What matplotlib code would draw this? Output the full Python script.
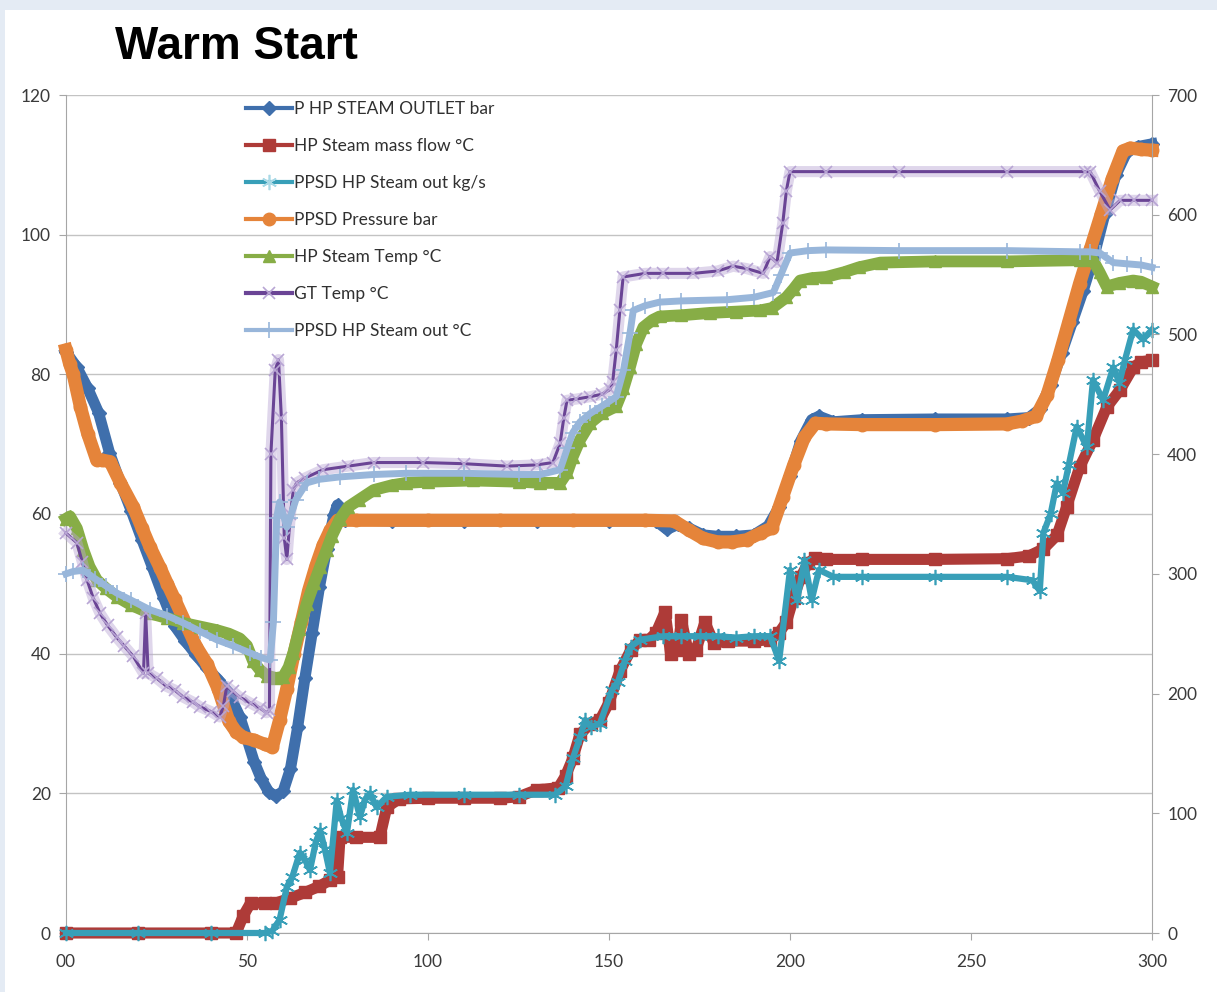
import matplotlib
matplotlib.use("Agg")
import matplotlib.pyplot as plt
from matplotlib.lines import Line2D
from matplotlib.patches import Rectangle

# ---- data (time axis 0..300) ----
# left axis (bar / kg/s)
t_p_hp = [0, 3, 6, 9, 12, 15, 18, 21, 24, 27, 30, 33, 36, 39, 42, 45, 48, 50, 52, 54, 56, 58,
          60, 62, 64, 66, 68, 70, 72, 74, 75, 77, 90, 110, 130, 150, 163, 166, 169, 172, 176,
          180, 185, 190, 194, 197, 200, 203, 206, 208, 212, 220, 240, 260, 266, 269, 272, 275,
          278, 281, 284, 287, 290, 293, 296, 300]
p_hp = [83.2, 81, 78, 74.5, 68.8, 64.5, 60.5, 56.3, 52.2, 48, 44, 41.8, 39.8, 37.9, 36.3, 34.3,
        31, 27.8, 24.5, 22, 20.2, 19.6, 20.3, 23.5, 29.5, 36.5, 43, 49.5, 55, 59.8, 61.3, 59.2,
        59, 59, 59, 59, 59, 57.8, 58.5, 58, 57, 56.8, 56.8, 57, 58.3, 61, 65.5, 70.5, 73.5, 74,
        73.2, 73.5, 73.6, 73.6, 73.8, 75, 78.5, 83, 87.5, 92, 97, 103, 108.5, 111.8, 112.6, 113]

t_flow = [0, 20, 40, 47, 49, 51, 55, 58, 62, 66, 70, 73, 75, 75.7, 80, 86.7, 88.6, 92, 100, 110,
          120, 125, 130, 136, 138, 140, 142, 145, 147.5, 150, 153, 156, 158.6, 161, 163, 165.5,
          167, 169, 170, 172, 174, 176.5, 179, 183, 190, 194.5, 197, 199, 201, 203, 205, 207,
          210, 220, 240, 260, 266, 270, 273.8, 276.4, 280, 283.7, 287.5, 291.2, 294.8, 297, 300]
hp_flow = [0, 0, 0, 0, 2.5, 4.3, 4.3, 4.3, 5, 5.8, 6.7, 7.6, 8, 13.7, 13.7, 13.7, 18, 19.2, 19.3,
           19.3, 19.3, 19.5, 20.5, 20.8, 22.5, 25, 28.5, 30, 30.5, 33, 37.5, 40.5, 42, 42, 43,
           46, 40, 40.5, 44.8, 40, 40.5, 44.5, 41.5, 41.8, 41.8, 42, 43, 44.5, 48, 51, 53, 53.7,
           53.5, 53.5, 53.5, 53.6, 54, 55, 57, 61, 66.7, 70.6, 75.3, 77.8, 81, 81.8, 82]

t_ppsd_kg = [0, 20, 40, 55, 57, 59, 61, 62.5, 64.6, 66, 67.4, 69, 70.2, 71.5, 72.9, 74.8, 76,
             77.6, 79.3, 81.2, 82.5, 84, 85.8, 88.6, 95, 110, 125, 135, 138, 140, 142, 143.4,
             145, 147.5, 150.8, 152.5, 154.4, 156, 158.6, 165, 170, 175, 180, 185, 190, 194.5,
             197, 200, 202, 204, 206, 208, 212, 220, 240, 260, 267, 269, 270, 272, 273.7, 275.4,
             277, 279.2, 282, 283.7, 286.5, 289.3, 291, 292.5, 294.8, 297.5, 300]
ppsd_kg = [0, 0, 0, 0, 0.3, 1.9, 6.6, 8, 11.5, 10.5, 9, 13, 14.7, 12, 8.6, 19, 16.5, 14.3, 20.5,
           16.6, 19, 20, 18, 19.5, 19.8, 19.8, 19.8, 19.8, 21, 25, 28, 30.5, 29.5, 30, 34.8, 36,
           39, 41, 42, 42.5, 42.5, 42.5, 42.5, 42.3, 42.5, 42.5, 39, 52, 47.7, 53.4, 47.7, 52, 51,
           51, 51, 51, 50.5, 49, 57.3, 60, 64.4, 63, 67, 72.5, 69.6, 79.2, 76.3, 81, 78.8, 82,
           86.4, 85, 86.4]

t_ppsd_p = [0, 1, 2, 4, 6, 8.5, 10, 12.2, 15, 18.6, 21, 23.2, 26, 28, 30, 33, 36, 39, 42, 45, 47,
            49, 52, 55, 57, 59, 61, 63, 65, 67, 69, 71, 73, 75, 80, 100, 120, 140, 160, 168, 172,
            176, 180, 184, 188, 192, 195, 198, 201, 204, 207, 210, 220, 240, 260, 264, 268, 271,
            274, 277, 280, 283, 286, 289, 292, 294, 297, 300]
ppsd_p = [83.5, 81.5, 80, 75.3, 71.5, 67.7, 67.7, 67.5, 64.5, 61, 58, 55.3, 52.3, 50, 47.8, 44.4,
          41, 38.5, 35, 30.3, 28.8, 28, 27.6, 27, 26.6, 30.5, 35, 40, 44.5, 49, 52.5, 55.5, 57.7,
          59.1, 59.1, 59.1, 59.1, 59.1, 59.1, 59, 57.7, 56.5, 56, 56, 56.3, 57.3, 58, 62.5, 67,
          71, 73, 72.9, 72.8, 72.8, 72.9, 73.3, 74, 77, 82, 87.5, 93, 98, 103, 108, 112, 112.4,
          112.2, 112.1]

# right axis (deg C)
t_hp_temp = [0, 1.1, 3, 4.8, 6.5, 8.5, 11, 14, 18, 23.2, 28, 32.4, 37, 41.6, 45, 48, 50, 51.7,
             53.5, 55.5, 58, 60, 61.5, 62.8, 64.5, 66.5, 68.5, 70.2, 72, 73.5, 75.7, 78, 81, 85,
             90, 94, 100, 112.5, 125, 131, 136.5, 138.5, 140, 142, 144.8, 148, 152, 154, 155.8,
             157.5, 159.5, 162, 164, 170, 178, 185, 191.7, 195, 199, 201, 202.8, 206, 210, 215,
             219, 225, 240, 260, 280, 283.7, 285.5, 287.5, 291, 294.8, 297, 300]
hp_temp = [346, 348, 338, 320, 306, 295, 288, 281, 274, 267, 263, 259, 256, 253, 250, 246, 240,
           227, 220, 215, 213, 214, 222, 234, 254, 275, 292, 306, 320, 332, 346, 356, 362, 370,
           374, 376, 377, 378, 377, 376, 376, 385, 398, 412, 426, 434, 440, 455, 473, 492, 506,
           512, 515, 516, 518, 519, 520, 522, 531, 538, 545, 547, 548, 552, 556, 560, 561, 561,
           562, 562, 552, 540, 543, 545, 544, 540]

t_gt = [0, 3, 4.5, 5.8, 7.5, 9.4, 11.5, 14, 16, 18.6, 21.4, 22, 22.7, 25, 27.8, 30, 32.4, 35, 37,
        40, 42.5, 43.5, 44.4, 46, 48, 51, 53.5, 55.4, 56.2, 56.6, 57.8, 58.7, 59.5, 60.3, 61,
        62, 62.8, 63.7, 66, 71, 78, 85, 98.6, 110, 121.8, 130, 134.5, 136.5, 137.5, 138.4, 141,
        144.8, 148, 150.3, 151, 152, 153, 153.9, 160, 165, 173.3, 180, 184.3, 188, 192.6, 194.5,
        196.4, 198, 199, 200, 210, 230, 260, 281.5, 282.9, 285.5, 288.4, 291.2, 295, 300]
gt_temp = [334, 326, 310, 295, 280, 267, 257, 247, 240, 231, 217, 267, 217, 213, 206, 203, 197,
           193, 189, 185, 180.5, 190, 206, 202, 197, 192, 188, 184, 186, 400, 470, 479, 430, 330,
           312, 350, 370, 376, 380, 387, 390, 393, 393, 392, 390, 391, 393, 409, 430, 445, 446,
           448, 450, 454, 460, 487, 520, 548, 551, 551, 551, 553, 557, 555, 551, 565, 560, 593,
           620, 636, 636, 636, 636, 636, 636, 620, 604, 612, 612, 612]

t_ppsd_t = [0, 2, 4.8, 8, 11, 14, 18, 23.2, 28, 32.4, 37, 41.6, 46, 50.8, 54, 56.4, 57.3, 58.2,
            59, 61, 61.9, 63.5, 66.5, 70, 75.7, 85, 94, 110, 125, 131, 136.5, 138.5, 140, 142,
            144.8, 148, 152, 154, 155.8, 156.7, 160, 164, 170, 182.6, 190, 195.4, 197.5, 200,
            205, 210, 230, 260, 280, 283, 285.6, 289.3, 293, 297, 300]
ppsd_temp = [300, 302, 303, 296, 290, 284, 278, 270, 265, 259, 252, 245, 240, 234, 230, 228, 260,
             347, 360, 339, 347, 362, 376, 379, 381, 383, 384, 384, 383, 383, 387, 405, 418, 427,
             434, 440, 448, 470, 501, 520, 524, 527, 528, 529, 531, 535, 550, 568, 570, 570.6,
             570, 570, 569, 569, 568, 560, 559, 558, 556]

labels = ["P HP STEAM OUTLET bar", "HP Steam mass flow °C", "PPSD HP Steam out kg/s",
          "PPSD Pressure bar", "HP Steam Temp °C", "GT Temp °C", "PPSD HP Steam out °C"]
x_ticks = [0, 50, 100, 150, 200, 250, 300]
x_tick_labels = ["00", "50", "100", "150", "200", "250", "300"]

c_blue = "#3f6fac"
c_red = "#ae3b38"
c_teal = "#389fb8"
c_orange = "#e5843a"
c_green = "#87ad46"
c_purple = "#6a4495"
c_purple_l = "#b8a5d4"
c_lblue = "#98b6da"

plt.rcParams["font.family"] = ["Lato", "DejaVu Sans"]

fig = plt.figure(figsize=(12.17, 9.92), dpi=100)
fig.patch.set_facecolor("#e4ebf4")
fig.patches.append(Rectangle((5 / 1217, 0), 1, 1 - 10 / 992, transform=fig.transFigure,
                             facecolor="white", edgecolor="none", zorder=-10))

ax = fig.add_axes([66 / 1217, 1 - 933 / 992, (1152 - 66) / 1217, (933 - 95) / 992])
ax2 = ax.twinx()
ax.set_facecolor("white")

# --- left axis series ---
ax.plot(t_p_hp, p_hp, color=c_blue, lw=8, marker="D", ms=7, clip_on=False, zorder=3)
ax.plot(t_flow, hp_flow, color=c_red, lw=8, marker="s", ms=8, clip_on=False, zorder=3)
ax.plot(t_ppsd_kg, ppsd_kg, color=c_teal, lw=4.5, marker=(6, 2, 0), ms=11, mew=1.2,
        clip_on=False, zorder=4)
ax.plot(t_ppsd_p, ppsd_p, color=c_orange, lw=9.5, marker="o", ms=9, clip_on=False, zorder=5)

# --- right axis series ---
ax2.plot(t_hp_temp, hp_temp, color=c_green, lw=8.5, marker="^", ms=9, clip_on=False, zorder=3)
ax2.plot(t_gt, gt_temp, color=c_purple_l, lw=8, alpha=0.45, clip_on=False, zorder=4)
ax2.plot(t_gt, gt_temp, color=c_purple, lw=2.2, marker="x", ms=9, mec=c_purple_l, mew=1.2,
         clip_on=False, zorder=4)
ax2.plot(t_ppsd_t, ppsd_temp, color=c_lblue, lw=5, marker="+", ms=11, mew=1.2,
         clip_on=False, zorder=5)

# axes styling
ax.set_xlim(0, 300)
ax.set_ylim(0, 120)
ax2.set_ylim(0, 700)
ax.set_xticks(x_ticks)
ax.set_xticklabels(x_tick_labels)
ax.set_yticks(range(0, 121, 20))
ax2.set_yticks(range(0, 701, 100))
ax.yaxis.grid(True, color="#c3c3c3", lw=1.0)
ax.set_axisbelow(True)

spine_c = "#a6a6a6"
for a in (ax, ax2):
    a.spines["top"].set_visible(False)
ax.spines["right"].set_visible(False)
ax2.spines["left"].set_visible(False)
ax2.spines["bottom"].set_visible(False)
ax.spines["left"].set_color(spine_c)
ax.spines["bottom"].set_color(spine_c)
ax2.spines["right"].set_color(spine_c)
for a in (ax, ax2):
    a.tick_params(direction="out", length=5, color=spine_c, labelcolor="#3a3a3a",
                  labelsize=12.5, pad=6)
ax.tick_params(axis="x", pad=10)

fig.text(115 / 1217, 1 - 47 / 992, "Warm Start", fontsize=33, fontweight="bold",
         family="Liberation Sans", va="center", ha="left", color="black")

handles = [
    Line2D([], [], color=c_blue, lw=3, marker="D", ms=7),
    Line2D([], [], color=c_red, lw=3, marker="s", ms=8),
    Line2D([], [], color=c_teal, lw=3, marker=(6, 2, 0), ms=11, mec="#a9d9e6", mew=1.2),
    Line2D([], [], color=c_orange, lw=3, marker="o", ms=9),
    Line2D([], [], color=c_green, lw=3, marker="^", ms=9),
    Line2D([], [], color=c_purple, lw=3, marker="x", ms=9, mec=c_purple_l, mew=1.2),
    Line2D([], [], color=c_lblue, lw=3, marker="+", ms=11, mec=c_lblue, mew=1.2),
]
ax2.legend(handles, labels, loc="upper left", bbox_to_anchor=(0.163, 0.997), frameon=False,
           fontsize=12.5, labelspacing=1.21, handlelength=2.6, handletextpad=0.15,
           borderaxespad=0, borderpad=0.2, labelcolor="#303030")

fig.savefig("out.png", dpi=100, facecolor=fig.get_facecolor())
